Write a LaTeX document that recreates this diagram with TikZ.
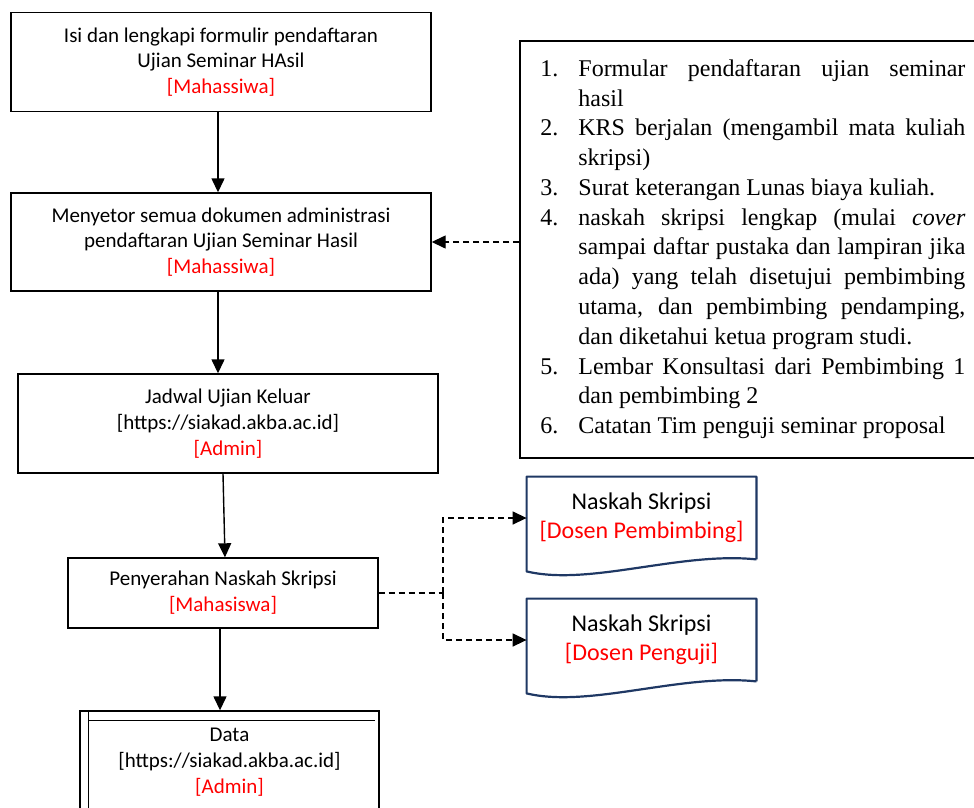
\documentclass[tikz,border=0pt]{standalone}
\usepackage{fontspec}
\setmainfont{Carlito}
\newfontfamily\listfont{Liberation Serif}
\usetikzlibrary{arrows.meta}
\definecolor{navy}{HTML}{1F3864}
\newcommand{\petugas}[1]{\textcolor{red}{#1}}

\begin{document}
\begin{tikzpicture}[x=0.5pt, y=-0.5pt,
procbox/.style={rectangle, draw, line width=0.7pt, align=center, font=\fontsize{10.5}{12.9}\selectfont},
listbox/.style={rectangle, draw, line width=0.7pt},
listtext/.style={inner sep=0pt, align=justify, font=\listfont\fontsize{12}{14.9}\selectfont},
docnode/.style={rectangle, minimum width=114.5pt, minimum height=41pt, align=center, font=\fontsize{12}{14.5}\selectfont},
docline/.style={draw=navy, line width=1.1pt, line join=round},
flow/.style={-{Triangle[length=7pt,width=6.5pt]}, line width=0.7pt},
dline/.style={line width=0.7pt, dash pattern=on 3pt off 2pt},
dflow/.style={flow, dash pattern=on 3pt off 2pt},
]
\clip (0,0) rectangle (974,808);
\useasboundingbox (0,0) rectangle (974,808);
%Nodes
\node[procbox, minimum width=210pt, minimum height=49.5pt] at (221,62) (isi)
    {Isi dan lengkapi formulir pendaftaran\\Ujian Seminar HAsil\\\petugas{[Mahassiwa]}};
\node[procbox, minimum width=210pt, minimum height=49pt] at (221,242) (berkas)
    {Menyetor semua dokumen administrasi\\pendaftaran Ujian Seminar Hasil\\\petugas{[Mahassiwa]}};
\node[procbox, minimum width=210pt, minimum height=49.5pt] at (228,423.5) (jadwal)
    {Jadwal Ujian Keluar\\{[https://siakad.akba.ac.id]}\\\petugas{[Admin]}};
\node[procbox, minimum width=155pt, minimum height=35pt] at (223,593) (serah)
    {Penyerahan Naskah Skripsi\\\petugas{[Mahasiswa]}};
\node[procbox, minimum width=149.5pt, minimum height=51pt] at (229.5,762) (data)
    {Data\\{[https://siakad.akba.ac.id]}\\\petugas{[Admin]}};
\node[listbox, minimum width=228pt, minimum height=208.5pt] at (748,249.5) (syarat) {};
\node[listtext, anchor=north west, text width=212.5pt] at (540,46) (syarattext)
    {\begin{list}{\arabic{enumi}.}{\usecounter{enumi}\setlength{\leftmargin}{19pt}%
      \setlength{\labelwidth}{9pt}\setlength{\labelsep}{10pt}\setlength{\itemsep}{0pt}%
      \setlength{\parsep}{0pt}\setlength{\topsep}{0pt}\setlength{\partopsep}{0pt}}
    \item Formular pendaftaran ujian seminar hasil
    \item KRS berjalan (mengambil mata kuliah skripsi)
    \item Surat keterangan Lunas biaya kuliah.
    \item naskah skripsi lengkap (mulai \textit{cover} sampai daftar pustaka dan lampiran jika ada) yang telah disetujui pembimbing utama, dan pembimbing pendamping, dan diketahui ketua program studi.
    \item Lembar Konsultasi dari Pembimbing 1 dan pembimbing 2
    \item Catatan Tim penguji seminar proposal
    \end{list}};
\node[docnode] at (641.5,518) (naskah1) {Naskah Skripsi\\\petugas{[Dosen Pembimbing]}};
\node[docnode] at (641.5,640) (naskah2) {Naskah Skripsi\\\petugas{[Dosen Penguji]}};
%Document shapes
\draw[docline] (naskah1.south east) -- (naskah1.north east) -- (naskah1.north west)
    -- ([yshift=-6pt]naskah1.south west)
    .. controls +(63,15) and +(-76,-8) .. (naskah1.south east);
\draw[docline] (naskah2.south east) -- (naskah2.north east) -- (naskah2.north west)
    -- ([yshift=-6pt]naskah2.south west)
    .. controls +(63,15) and +(-76,-8) .. (naskah2.south east);
%Data lines
\draw[line width=0.7pt] ([xshift=4.5pt]data.north west) -- ([xshift=4.5pt]data.south west);
\draw[line width=0.7pt] ([xshift=4.5pt,yshift=-5pt]data.north west) -- ([xshift=-2.5pt,yshift=-5pt]data.north east);
%Lines
\draw[flow] ([xshift=-1.5pt]isi.south) -- ([xshift=-1.5pt]berkas.north);
\draw[flow] ([xshift=-1.5pt]berkas.south) -- ([xshift=-1.5pt]berkas.south |- jadwal.north);
\draw[flow] ([xshift=-2.5pt]jadwal.south) -- ([xshift=1pt]serah.north);
\draw[flow] ([xshift=-1.5pt]serah.south) -- ([xshift=-1.5pt]serah.south |- data.north);
\draw[dflow] (berkas.east -| syarat.west) -- (berkas.east);
\coordinate (cabang) at (443,593);
\draw[dline] (serah.east) -- (cabang);
\draw[dflow] (cabang) |- (naskah1.west);
\draw[dflow] (cabang) |- (naskah2.west);
\end{tikzpicture}
\end{document}
